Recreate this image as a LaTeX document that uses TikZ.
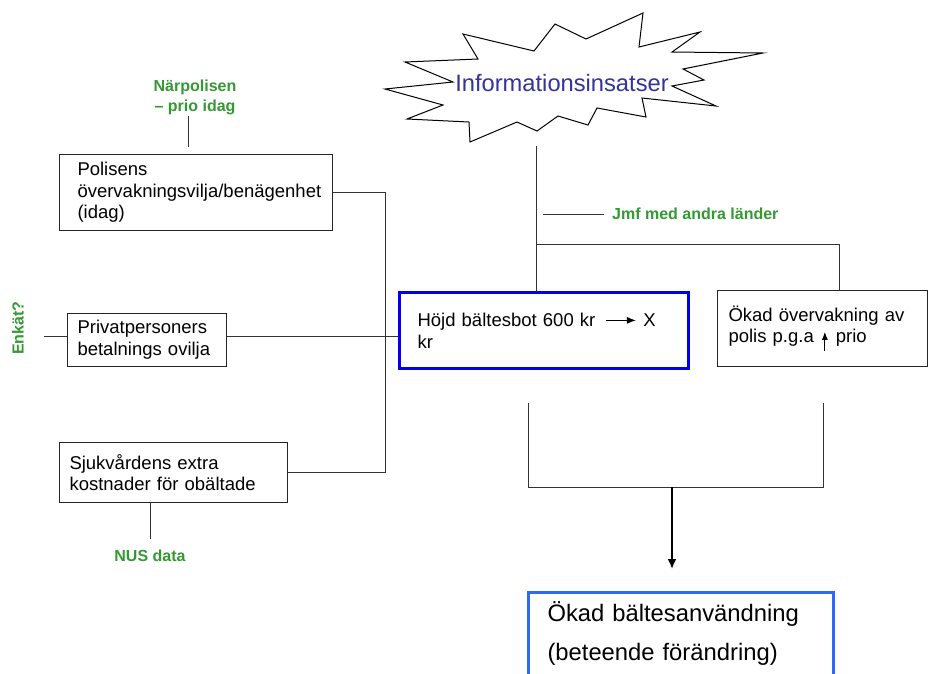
\documentclass[tikz,border=0pt]{standalone}
\usepackage{fontspec}
\setmainfont{Liberation Sans}
\usetikzlibrary{arrows.meta,calc}
\definecolor{grn}{HTML}{339933}
\definecolor{starblue}{HTML}{333399}
\definecolor{hblue}{HTML}{0000EE}
\definecolor{fblue}{HTML}{3366FF}
\hfuzz=200pt
\hbadness=10000
\begin{document}
\begin{tikzpicture}[x=1pt,y=-1pt,
  box/.style={draw=black!85, line width=1pt, anchor=north west, align=left,
    font=\fontsize{18.5}{21.7}\selectfont, inner ysep=0pt, fill=white},
  note/.style={text=grn, font=\bfseries\fontsize{16}{20}\selectfont, inner sep=0pt, align=center},
  conn/.style={draw=black!80, line width=1pt}]
\useasboundingbox (0,0) rectangle (928,673);

% starburst
\draw[line width=1pt, fill=white] (385,89) -- (453,82) -- (405,62) -- (478,59) -- (463,34)
  -- (534,51) -- (555,24) -- (586,39) -- (643,13) -- (639,47) -- (700,32) -- (672,52)
  -- (763,53) -- (683,69) -- (704,80) -- (672,86) -- (716,106) -- (642,98) -- (646,117)
  -- (597,108) -- (588,125) -- (558,116) -- (537,131) -- (517,122) -- (470,142)
  -- (469,122) -- (407,119) -- (443,105) -- cycle;
\node[font=\fontsize{23.7}{28}\selectfont, text=starblue, inner sep=0pt] (info) at (562,83) {Informationsinsatser};

% boxes
\node[box, minimum width=273pt, minimum height=76pt, inner xsep=18pt, text width=237pt] (pol) at (59,154)
  {Polisens\\övervakningsvilja/benägenhet\\(idag)};
\node[box, minimum width=159pt, minimum height=53pt, inner xsep=10pt, text width=139pt] (priv) at (67,313)
  {Privatpersoners\\betalnings ovilja};
\node[box, minimum width=228pt, minimum height=60pt, inner xsep=10pt, text width=208pt] (sjuk) at (59,442)
  {Sjukvårdens extra\\kostnader för obältade};
\node[box, draw=hblue, line width=3pt, minimum width=289pt, minimum height=76pt, inner xsep=18pt, text width=253pt] (hojd) at (398,291)
  {Höjd bältesbot 600 kr\hspace{10pt}\tikz[baseline=-6pt]\draw[line width=1pt,-{Latex[length=9pt,width=7pt]}] (0pt,0pt) -- (30pt,0pt);\hspace{7pt}X\\kr};
\node[box, minimum width=210pt, minimum height=76pt, inner xsep=11pt, text width=188pt] (okad) at (717,290)
  {Ökad övervakning av\\polis p.g.a\hspace{8pt}\tikz[baseline=0pt]\draw[line width=1pt,-{Latex[length=8pt,width=6pt]}] (0pt,-8pt) -- (0pt,11pt);\hspace{8pt}prio};
\node[box, draw=none, fill=none, minimum width=304pt, minimum height=81pt, inner xsep=19pt, text width=266pt,
  font=\fontsize{23.8}{39}\selectfont] (fin) at (528,592)
  {Ökad bältesanvändning\\(beteende förändring)};
\draw[fblue, line width=3pt] (fin.south west) |- (fin.north east) -- (fin.south east);

% notes
\node[note] (narp) at (195,97) {Närpolisen\\– prio idag};
\node[note, rotate=90] (enk) at (18,328) {Enkät?};
\node[note] (nus) at (150,556) {NUS data};
\node[note, anchor=west] (jmf) at (612,214) {Jmf med andra länder};

% connectors
\coordinate (p1) at (188,116);
\coordinate (p2) at (188,147);
\draw[conn] (p1) -- (p2);
\coordinate (v) at (385,0);
\draw[conn] (pol.east) -| (v |- sjuk.east) -- (sjuk.east);
\coordinate (e1) at (44,336);
\draw[conn] (e1) -- (e1 -| priv.west);
\draw[conn] (e1 -| priv.east) -- (e1 -| hojd.west);
\coordinate (n1) at (150,539);
\draw[conn] (n1 |- sjuk.south) -- (n1);

\coordinate (s1) at (536,146);
\draw[conn] (s1) -- (s1 |- hojd.north);
\coordinate (b1) at (536,244);
\coordinate (b2) at (839,244);
\draw[conn] (b1) -- (b2) -- (b2 |- okad.north);
\coordinate (j1) at (543,214);
\coordinate (j2) at (604,214);
\draw[conn] (j1) -- (j2);

\coordinate (k1) at (528,403);
\coordinate (k2) at (823,403);
\coordinate (k3) at (672,487);
\coordinate (k4) at (672,569);
\draw[conn] (k1) |- (k2 |- k3) -- (k2);
\draw[line width=2pt, -{Latex[length=10pt,width=9pt]}] (k3) -- (k4);
\end{tikzpicture}
\end{document}
